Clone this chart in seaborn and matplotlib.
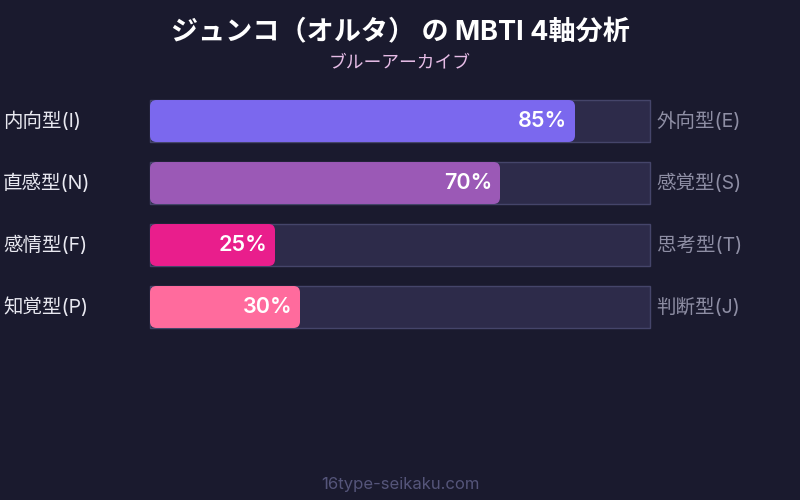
import pandas as pd
import numpy as np
import matplotlib
matplotlib.use('Agg')
import matplotlib.pyplot as plt
import seaborn as sns
from matplotlib.patches import FancyBboxPatch

# データ
left_labels = ['内向型(I)', '直感型(N)', '感情型(F)', '知覚型(P)']
right_labels = ['外向型(E)', '感覚型(S)', '思考型(T)', '判断型(J)']
scores = [85, 70, 25, 30]
bar_colors = ['#7b68ee', '#9b59b6', '#e91e8c', '#ff6b9d']
title = 'ジュンコ（オルタ） の MBTI 4軸分析'
subtitle = 'ブルーアーカイブ'
footer = '16type-seikaku.com'

bg = '#1a1a2e'
sns.set_theme(style='white')
plt.rcParams['font.family'] = ['Inter', 'Noto Sans CJK JP', 'DejaVu Sans']

df = pd.DataFrame({'axis': left_labels, 'score': scores, 'full': [100] * len(scores)})

fig = plt.figure(figsize=(8, 5), dpi=100, facecolor=bg)
ax = fig.add_axes([0, 0, 1, 1])
ax.set_facecolor(bg)

# 背景トラック
sns.barplot(data=df, y='axis', x='full', orient='h', color='#2d2b4a',
            edgecolor='#45456a', linewidth=1, width=0.677, saturation=1, ax=ax)
n_track = len(ax.patches)

# スコアバー
sns.barplot(data=df, y='axis', x='score', orient='h', hue='axis',
            palette=bar_colors, legend=False, width=0.677, saturation=1, ax=ax)

# x: 150px -> 0, 650px -> 100 ; y: 行間 62px
ax.set_xlim(-30, 130)
ax.set_ylim((500 - 121) / 62, -121 / 62)

# 角丸に置き換え
aspect = 5 / 62
for p in list(ax.patches[n_track:]):
    x0, y0 = p.get_x(), p.get_y()
    w, h = p.get_width(), p.get_height()
    fc = p.get_facecolor()
    p.remove()
    ax.add_patch(FancyBboxPatch((x0, y0), w, h,
                                boxstyle='round,pad=0,rounding_size=1.3',
                                mutation_aspect=aspect, facecolor=fc,
                                edgecolor='none', zorder=3))

for i, (l, r, s) in enumerate(zip(left_labels, right_labels, scores)):
    ax.text(-29.4, i, l, ha='left', va='center', fontsize=14, color='#e8e8f0')
    ax.text(101.3, i, r, ha='left', va='center', fontsize=14, color='#8e8ea4')
    ax.text(s - 1.6, i, f'{s}%', ha='right', va='center', fontsize=15.5,
            fontweight='semibold', color='white', zorder=4)

ax.axis('off')

fig.text(0.5, 1 - 33 / 500, title, ha='center', va='center', fontsize=19.5,
         fontweight='bold', color='white')
fig.text(0.5, 1 - 63 / 500, subtitle, ha='center', va='center', fontsize=12.8,
         color='#e6bce6')
fig.text(0.5, 1 - 484 / 500, footer, ha='center', va='center', fontsize=12,
         color='#55557a')

fig.savefig('out.png', dpi=100, facecolor=bg)
